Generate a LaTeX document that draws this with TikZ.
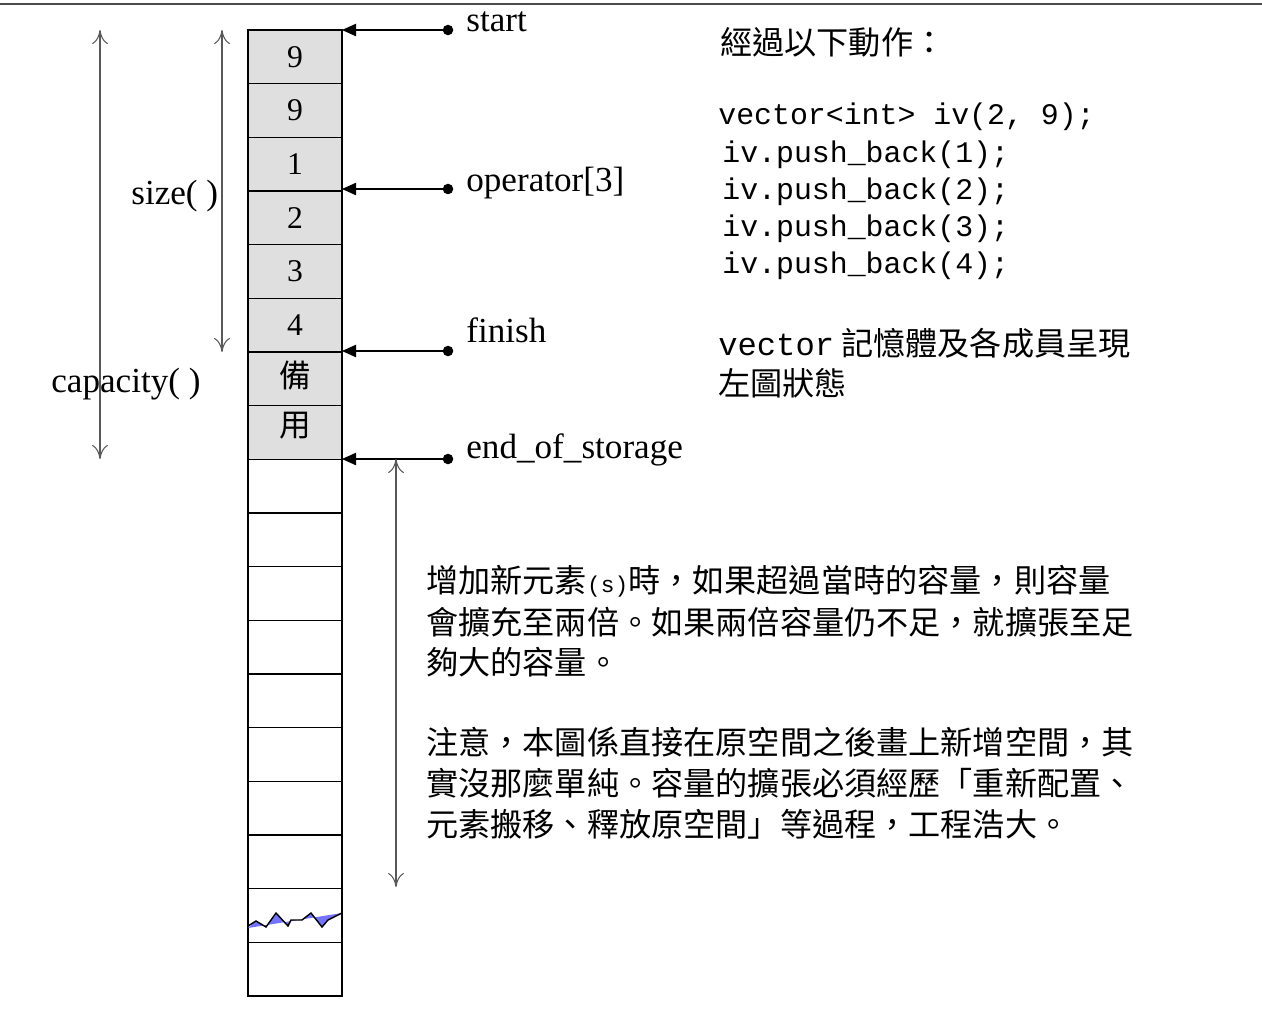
\documentclass[tikz,border=0pt]{standalone}
\usepackage{fontspec}
\setmainfont{Liberation Serif}
\setmonofont{Liberation Mono}
\newfontfamily\cjk{Noto Sans CJK TC}
\usepackage{tikz}
\usetikzlibrary{arrows.meta, positioning}

\begin{document}
\begin{tikzpicture}[x=0.02cm, y=-0.02cm,
        cell/.style={draw, line width=0.8pt, minimum width=1.88cm, minimum height=1.074cm, inner sep=0pt, font=\fontsize{18}{18}\selectfont},
        ptr/.style={-{Triangle[length=8pt,width=7pt]}, line width=0.8pt},
        dim/.style={{To[length=8pt,width=9pt]}-{To[length=8pt,width=9pt]}, gray!70!black, line width=0.6pt},
        lbl/.style={anchor=west, inner sep=0pt, font=\fontsize{20}{20}\selectfont},
        zh/.style={anchor=west, inner sep=0pt, font=\cjk\fontsize{18.3}{18.3}\selectfont},
        code/.style={anchor=west, inner sep=0pt, font=\ttfamily\fontsize{17}{17}\selectfont}]
    \useasboundingbox (0,0) rectangle (1262,1012);
    \draw[line width=1.5pt, gray!60!black] (0,4) -- (1262,4);

    % memory cells
    \foreach \i in {1,...,18} {
        \ifnum\i<9
            \node[cell, fill=gray!25] (c\i) at (295, 30+53.67*\i-26.83) {};
        \else
            \node[cell] (c\i) at (295, 30+53.67*\i-26.83) {};
        \fi
    }
    \foreach \i/\v in {1/9, 2/9, 3/1, 4/2, 5/3, 6/4} {
        \node[font=\fontsize{18}{18}\selectfont] at (c\i) {\v};
    }
    \node[font=\cjk\fontsize{18}{18}\selectfont] at ([yshift=2pt]c7) {備};
    \node[font=\cjk\fontsize{18}{18}\selectfont] at ([yshift=4pt]c8) {用};

    % break mark
    \fill[blue!55!white] (248,928) -- (256,921) -- (266,927) -- (276,913) -- (288,926) -- (291,920) -- (302,920)
        -- (311,913) -- (322,927) -- (328,920) -- (342,913) -- cycle;
    \draw[line width=0.8pt] (248,926) -- (256,921) -- (266,927) -- (276,913) -- (288,926) -- (291,920) -- (302,920)
        -- (311,913) -- (322,927) -- (328,920) -- (342,913);

    % pointers
    \foreach \n/\y/\d/\t in {ps/30/8/start, po/189/6/{operator[3]}, pf/351/21/finish, pe/459/9/end\_of\_storage} {
        \coordinate (\n) at (448,\y);
        \fill (\n) circle (3pt);
        \draw[ptr] (\n) -- (342,\y);
        \node[lbl] at (466,\y-\d) {\t};
    }

    % dimensions
    \coordinate (st) at (222,30);
    \coordinate (sb) at (222,352);
    \coordinate (ct) at (100,30);
    \coordinate (cb) at (100,459);
    \coordinate (gt) at (396,459);
    \coordinate (gb) at (396,887);
    \draw[dim] (st) -- (sb);
    \draw[dim] (ct) -- (cb);
    \draw[dim] (gt) -- (gb);
    \node[lbl] at (131,196) {size( )};
    \node[lbl] at (51,384) {capacity( )};

    % notes
    \node[zh] at (720,42) {經過以下動作：};
    \node[code] at (718,117) {vector<int> iv(2, 9);};
    \node[code] at (722,155) {iv.push\_back(1);};
    \node[code] at (722,192) {iv.push\_back(2);};
    \node[code] at (722,229) {iv.push\_back(3);};
    \node[code] at (722,266) {iv.push\_back(4);};
    \node[zh] at (718,343) {{\ttfamily vector} 記憶體及各成員呈現};
    \node[zh] at (718,383) {左圖狀態};
    \node[zh] at (426,581) {增加新元素{\ttfamily\fontsize{13}{13}\selectfont(s)}時，如果超過當時的容量，則容量};
    \node[zh] at (426,622) {會擴充至兩倍。如果兩倍容量仍不足，就擴張至足};
    \node[zh] at (426,662) {夠大的容量。};
    \node[zh] at (426,742) {注意，本圖係直接在原空間之後畫上新增空間，其};
    \node[zh] at (426,783) {實沒那麼單純。容量的擴張必須經歷「重新配置、};
    \node[zh] at (426,824) {元素搬移、釋放原空間」等過程，工程浩大。};
\end{tikzpicture}
\end{document}
